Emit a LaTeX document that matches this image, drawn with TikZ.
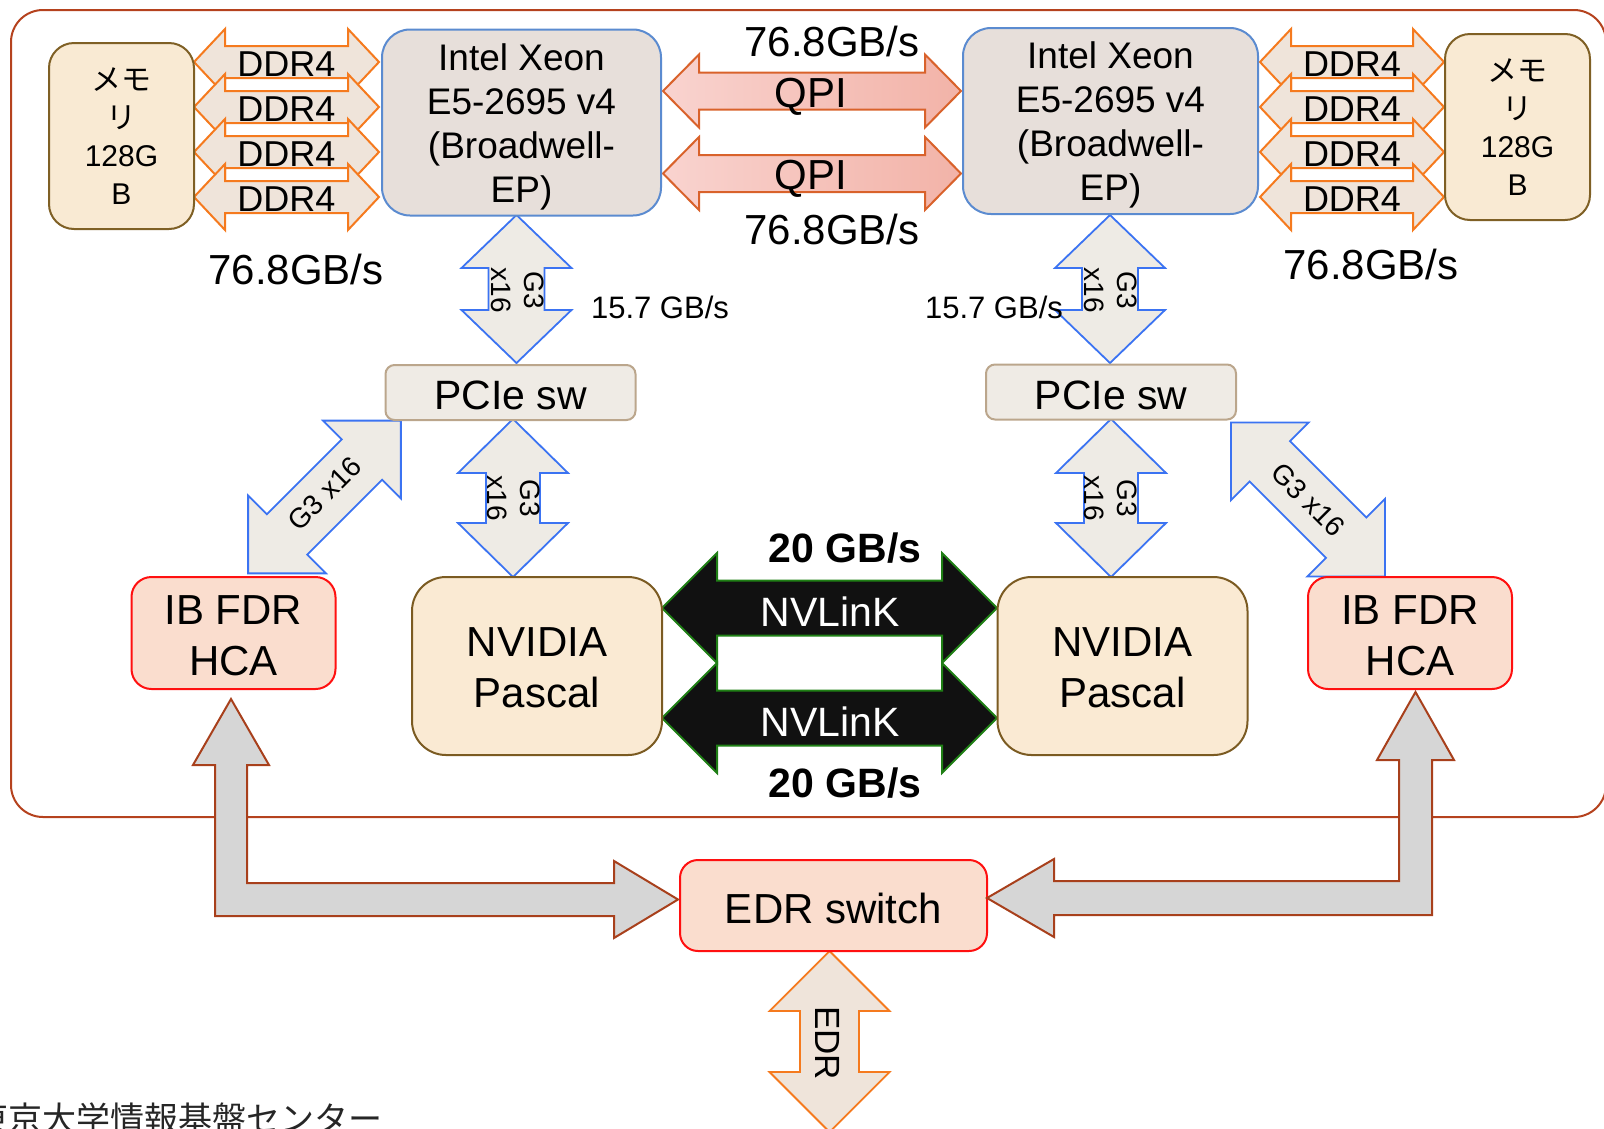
\documentclass[tikz,border=0pt]{standalone}
\usepackage{fontspec}
\setmainfont{Liberation Sans}
\newfontfamily\cjk{Noto Sans CJK JP}
\definecolor{memfill}{HTML}{F9EAD3}
\definecolor{memdraw}{HTML}{7F6025}
\definecolor{cpufill}{HTML}{E7DFDA}
\definecolor{cpudraw}{HTML}{5B8BD0}
\definecolor{ddrfill}{HTML}{EFE4DA}
\definecolor{ddrdraw}{HTML}{F57A1E}
\definecolor{qpidraw}{HTML}{D9622B}
\definecolor{qpil}{HTML}{F9D3CF}
\definecolor{qpir}{HTML}{F2B3A8}
\definecolor{pciefill}{HTML}{EFEBE5}
\definecolor{pciedraw}{HTML}{BBA68C}
\definecolor{parrfill}{HTML}{EEEBE5}
\definecolor{parrdraw}{HTML}{3B73F2}
\definecolor{gpufill}{HTML}{FAEAD3}
\definecolor{gpudraw}{HTML}{7B5B22}
\definecolor{hcafill}{HTML}{FADDCE}
\definecolor{hcadraw}{HTML}{FF1010}
\definecolor{nvfill}{HTML}{111111}
\definecolor{nvdraw}{HTML}{1F7F15}
\definecolor{grayfill}{HTML}{D6D6D6}
\definecolor{graydraw}{HTML}{A8401C}
\definecolor{outerdraw}{HTML}{B5421E}
\newcommand\dblarr[8]{%
 \begin{scope}[shift={(#2,#3)},rotate=#4]
 \path[#1] ({-#5/2},0) -- ({-#5/2+#6},{-#7}) -- ({-#5/2+#6},{-#8}) -- ({#5/2-#6},{-#8}) -- ({#5/2-#6},{-#7}) -- ({#5/2},0) -- ({#5/2-#6},{#7}) -- ({#5/2-#6},{#8}) -- ({-#5/2+#6},{#8}) -- ({-#5/2+#6},{#7}) -- cycle;
 \end{scope}}
\newcommand\lowered[2]{\raisebox{-#1}[\height][\depth]{#2}}
\tikzset{
 box/.style={line width=2pt, inner sep=0pt, align=center},
 membox/.style={box, draw=memdraw, fill=memfill, rounded corners=25pt, minimum width=145pt, minimum height=186pt, font={\fontsize{30}{38}\selectfont}},
 cpubox/.style={box, draw=cpudraw, fill=cpufill, rounded corners=28pt, minimum height=186pt, font={\fontsize{37}{44}\selectfont}},
 pciebox/.style={box, draw=pciedraw, fill=pciefill, rounded corners=9pt, minimum width=250pt, minimum height=55pt, font={\fontsize{41}{48}\selectfont}},
 gpubox/.style={box, draw=gpudraw, fill=gpufill, rounded corners=34pt, minimum width=250pt, minimum height=178pt, font={\fontsize{42}{51}\selectfont}},
 hcabox/.style={box, draw=hcadraw, fill=hcafill, rounded corners=20pt, minimum width=204pt, minimum height=112pt, font={\fontsize{42}{51}\selectfont}},
 ddrarr/.style={draw=ddrdraw, fill=ddrfill, line width=2pt},
 qpiarr/.style={draw=qpidraw, left color=qpil, right color=qpir, line width=2pt},
 parr/.style={draw=parrdraw, fill=parrfill, line width=1.8pt},
 nvarr/.style={draw=nvdraw, fill=nvfill, line width=2pt},
 grayarr/.style={draw=graydraw, fill=grayfill, line width=2pt, line join=miter},
 edrarr/.style={draw=ddrdraw, fill=ddrfill, line width=1.8pt},
 lbl/.style={inner sep=0pt},
 ddrlbl/.style={lbl, font={\fontsize{36}{40}\selectfont}},
 biglbl/.style={lbl, font={\fontsize{42}{46}\selectfont}},
 smalllbl/.style={lbl, font={\fontsize{31}{34}\selectfont}},
 glbl/.style={lbl, align=center, font={\fontsize{28}{33}\selectfont}},
 nvlbl/.style={lbl, text=white, font={\fontsize{41}{46}\selectfont}},
 boldlbl/.style={lbl, font={\fontsize{41}{46}\selectfont\bfseries}},
}
\begin{document}
\begin{tikzpicture}[x=1pt,y=-1pt]
\useasboundingbox (0,0) rectangle (1604,1128);
% outer frame
\draw[outerdraw, line width=2pt, rounded corners=32pt] (11,10) rectangle (1606,817);

% DDR4 arrows
\foreach \cy in {62,107,152,197}{
 \dblarr{ddrarr}{286.5}{\cy}{0}{185}{31}{33}{16}
 \dblarr{ddrarr}{1352}{\cy}{0}{184}{31}{33}{16}
}
\foreach \cy [count=\i] in {64,109,154,199}{
 \node[ddrlbl] (ddrl\i) at (286.5,\cy) {DDR4};
 \node[ddrlbl] (ddrr\i) at (1352,\cy) {DDR4};
}
% QPI arrows
\dblarr{qpiarr}{812}{91}{0}{298}{36}{36.5}{18.5}
\dblarr{qpiarr}{812}{173.5}{0}{298}{36}{36.5}{18.5}
\node[biglbl] (qpi1) at (811,97) {QPI};
\node[biglbl] (qpi2) at (811,179) {QPI};

% PCIe arrows
\dblarr{parr}{516.5}{289}{90}{148}{53}{55}{28}
\dblarr{parr}{1110}{289}{90}{148}{53}{55}{28}
\dblarr{parr}{513}{498}{90}{158}{54}{55}{27}
\dblarr{parr}{1111}{498}{90}{158}{54}{55}{27}
\dblarr{parr}{324.5}{497}{45}{216}{55}{55}{28.5}
\dblarr{parr}{1308}{499.5}{-45}{218}{55}{55}{28.5}

% NVLink arrows
\dblarr{nvarr}{829.5}{608}{0}{335}{55}{55}{27.5}
\dblarr{nvarr}{829.5}{718}{0}{335}{55}{55}{27.5}

% EDR arrow
\dblarr{edrarr}{829.5}{1041.5}{90}{181}{60}{60}{29.5}

% boxes
\node[membox] (memL) at (121.5,136) {{\cjk メモ}\\{\cjk リ}\\128G\\B};
\node[membox] (memR) at (1517.5,127) {{\cjk メモ}\\{\cjk リ}\\128G\\B};
\node[cpubox, minimum width=279pt] (cpuL) at (521.5,122.5) {\lowered{5pt}{\begin{tabular}{@{}c@{}}Intel Xeon\\E5-2695 v4\\(Broadwell-\\EP)\end{tabular}}};
\node[cpubox, minimum width=295pt] (cpuR) at (1110.5,121) {\lowered{5pt}{\begin{tabular}{@{}c@{}}Intel Xeon\\E5-2695 v4\\(Broadwell-\\EP)\end{tabular}}};
\node[pciebox] (pcieL) at (510.5,392.5) {\lowered{3pt}{PCIe sw}};
\node[pciebox] (pcieR) at (1111,392) {\lowered{3pt}{PCIe sw}};
\node[gpubox] (gpuL) at (537,666) {\lowered{6pt}{\begin{tabular}{@{}c@{}}NVIDIA\\Pascal\end{tabular}}};
\node[gpubox] (gpuR) at (1122.5,666) {\lowered{6pt}{\begin{tabular}{@{}c@{}}NVIDIA\\Pascal\end{tabular}}};
\node[hcabox] (hcaL) at (233.5,633) {\lowered{7pt}{\begin{tabular}{@{}c@{}}IB FDR\\HCA\end{tabular}}};
\node[hcabox] (hcaR) at (1410,633) {\lowered{7pt}{\begin{tabular}{@{}c@{}}IB FDR\\HCA\end{tabular}}};
\node[hcabox, rounded corners=18pt, minimum width=307pt, minimum height=91pt] (edr) at (833.5,905.5) {\lowered{3pt}{EDR switch}};

% gray L-shaped arrows
\path[grayarr] (231,699) -- (269,765) -- (247,765) -- (247,883) -- (614,883) -- (614,861) -- (678,899.5) -- (614,938) -- (614,916) -- (215,916) -- (215,765) -- (193,765) -- cycle;
\path[grayarr] (1415.5,692) -- (1454,760) -- (1432,760) -- (1432,915) -- (1054,915) -- (1054,937) -- (987,898) -- (1054,859) -- (1054,881) -- (1399,881) -- (1399,760) -- (1377,760) -- cycle;

% labels
\node[biglbl] (bwqpi1) at (832,41) {76.8GB/s};
\node[biglbl] (bwqpi2) at (832,229) {76.8GB/s};
\node[biglbl] (bwmemL) at (296,269) {76.8GB/s};
\node[biglbl] (bwmemR) at (1371,264) {76.8GB/s};
\node[smalllbl] (bwpL) at (660,307) {15.7 GB/s};
\node[smalllbl] (bwpR) at (994,307) {15.7 GB/s};
\node[glbl, rotate=-90] (g1) at (518,290) {G3\\x16};
\node[glbl, rotate=-90] (g2) at (1111,290) {G3\\x16};
\node[glbl, rotate=-90] (g3) at (514,498) {G3\\x16};
\node[glbl, rotate=-90] (g4) at (1111,498) {G3\\x16};
\node[glbl, rotate=45] (g5) at (324.5,494) {G3 x16};
\node[glbl, rotate=-45] (g6) at (1308,500) {G3 x16};
\node[nvlbl] (nv1) at (830,612) {NVLinK};
\node[nvlbl] (nv2) at (830,722) {NVLinK};
\node[boldlbl] (bw20a) at (845,548) {20 GB/s};
\node[boldlbl] (bw20b) at (845,783) {20 GB/s};
\node[lbl, rotate=-90, font={\fontsize{35}{40}\selectfont}] (edrl) at (828,1043) {EDR};
\node[lbl, anchor=base west, text=black!85, font={\fontsize{34}{40}\selectfont\cjk}] (org) at (-26,1131) {東京大学情報基盤センター};
\end{tikzpicture}
\end{document}
